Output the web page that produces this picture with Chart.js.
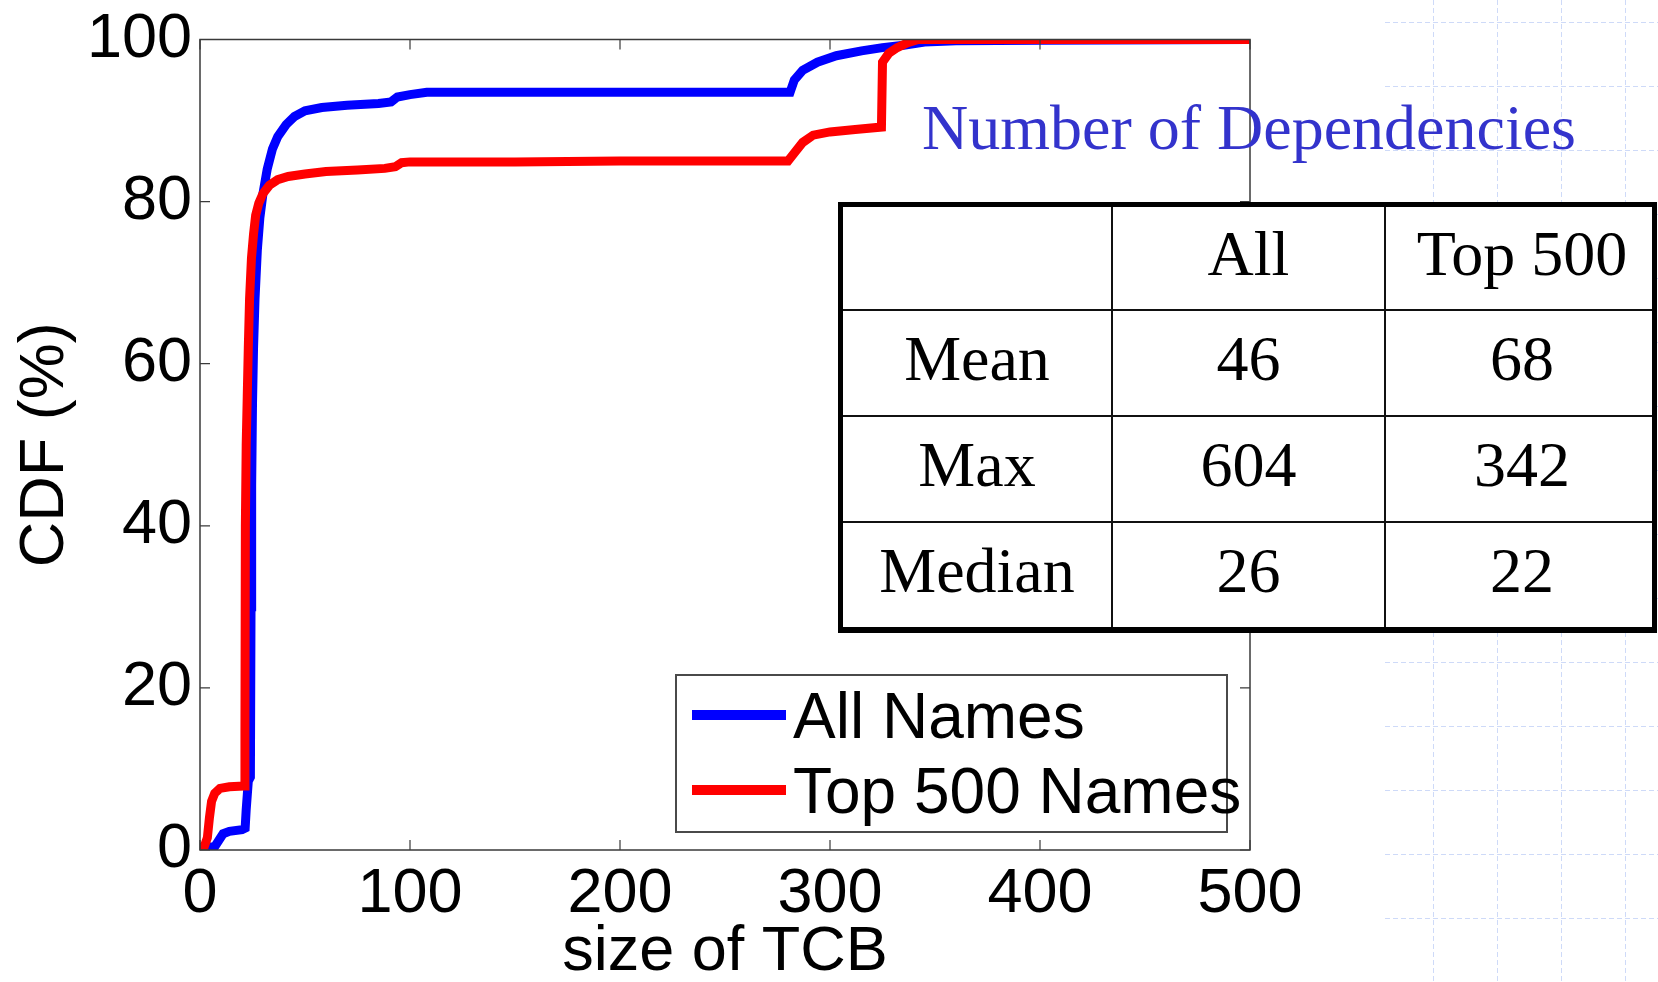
<!DOCTYPE html>
<html>
<head>
<meta charset="utf-8">
<title>CDF of TCB size</title>
<script src="https://cdn.jsdelivr.net/npm/chart.js@4.4.1/dist/chart.umd.min.js"></script>
<style>
    html, body { margin: 0; padding: 0; background: #fff; }
    #page { position: relative; width: 1658px; height: 982px; overflow: hidden; }
    #chart { position: absolute; left: 0; top: 0; }
    #deps-title {
        position: absolute; left: 922px; top: 96px;
        font: 64px/1 'Liberation Serif', 'Times New Roman', serif;
        color: #3333cc; white-space: nowrap;
    }
    #stats {
        position: absolute; left: 838px; top: 202px; width: 819px; height: 431px;
        box-sizing: border-box; border: 5px solid #000; border-bottom-width: 6px;
        background: #fff; display: grid;
        grid-template-columns: 270px 273px 1fr;
        grid-template-rows: 104px 106px 106px 1fr;
        font: 64px/1 'Liberation Serif', 'Times New Roman', serif; color: #000;
    }
    #stats div {
        display: flex; align-items: center; justify-content: center;
        padding-bottom: 8px; box-sizing: border-box;
        border-right: 2px solid #111; border-bottom: 2px solid #111;
    }
    #stats div.last-col { border-right: none; padding-left: 6px; }
    #stats div.last-row { border-bottom: none; }
    #legend {
        position: absolute; left: 675px; top: 674px; width: 553px; height: 159px;
        box-sizing: border-box; border: 2px solid #4a4a4a; background: #fff;
    }
    #legend .swatch { position: absolute; left: 15px; width: 94px; height: 10px; }
    #legend .label {
        position: absolute; left: 116px; white-space: nowrap;
        font: 64px/1 'Liberation Sans', Arial, sans-serif; color: #000;
    }
</style>
</head>
<body>
<div id="page">
    <canvas id="chart" width="1658" height="982"></canvas>
    <div id="deps-title">Number of Dependencies</div>
    <div id="stats"></div>
    <div id="legend"></div>
</div>
<script>
'use strict';

// axis ticks
const xTicks = [0, 100, 200, 300, 400, 500];
const yTicks = [0, 20, 40, 60, 80, 100];

// CDF of "All Names" (size of TCB, cumulative %)
const allNamesSize = [0, 7, 9, 11, 14, 20, 21.5, 22, 23, 24, 24.3, 24.6, 25, 25.5, 26.2, 27.3, 28.5, 30, 32, 34.5,
    37, 41, 45, 50, 58, 70, 85, 91, 94, 100, 108, 150, 200, 250, 281, 283, 287, 294, 303, 315,
    325, 335, 345, 360, 400, 500];
const allNamesCdf = [0.3, 0.4, 1.2, 2.0, 2.3, 2.5, 2.7, 5, 8.5, 9, 30, 45, 55, 62, 68, 74, 78, 81, 84, 86.5,
    88, 89.5, 90.5, 91.2, 91.6, 91.9, 92.1, 92.3, 92.9, 93.2, 93.5, 93.5, 93.5, 93.5, 93.5, 95, 96.2, 97.2, 98, 98.6,
    99.0, 99.3, 99.7, 99.85, 99.9, 100];

// CDF of "Top 500 Names"
const top500Size = [0, 2, 3.5, 4.5, 5.5, 7, 9.5, 14, 21, 21.4, 21.6, 22, 22.5, 23, 23.6, 24.5, 25.5, 26.5, 28, 30,
    33, 37, 42, 50, 60, 75, 88, 93, 96, 100, 150, 200, 250, 280, 283, 287, 292, 300, 312, 324.5,
    325, 328, 332, 337, 342, 500];
const top500Cdf = [0.3, 0.4, 1.5, 4, 6, 7, 7.6, 7.8, 7.9, 15, 40, 50, 56, 62, 68, 73, 76, 78.3, 79.8, 81,
    82, 82.7, 83.1, 83.4, 83.7, 83.9, 84.1, 84.3, 84.8, 84.9, 84.9, 85.0, 85.0, 85.0, 86, 87.3, 88.2, 88.6, 88.9, 89.2,
    97.2, 98.3, 99, 99.6, 100, 100];

// inset table
const statHeader = ['', 'All', 'Top 500'];
const statNames = ['Mean', 'Max', 'Median'];
const statAll = [46, 604, 26];
const statTop500 = [68, 342, 22];

const seriesLabels = ['All Names', 'Top 500 Names'];
const seriesColors = ['#0000ff', '#ff0000'];

const SANS = "'Liberation Sans', Arial, sans-serif";

function toPoints(xs, ys) {
    return xs.map((x, i) => ({ x: x, y: ys[i] }));
}

//-----------------------
//- page decoration     -
//-----------------------
const paperGrid = {
    id: 'paperGrid',
    beforeDraw(chart) {
        const ctx = chart.ctx;
        ctx.save();
        ctx.fillStyle = '#fff';
        ctx.fillRect(0, 0, chart.width, chart.height);
        ctx.strokeStyle = 'rgb(206,218,248)';
        ctx.lineWidth = 1;
        ctx.setLineDash([5, 3]);
        ctx.beginPath();
        for (let x = 1433.5; x < chart.width; x += 64) {
            ctx.moveTo(x, 0);
            ctx.lineTo(x, chart.height);
        }
        for (let y = 22.5; y <= chart.height; y += 64) {
            ctx.moveTo(1385, y);
            ctx.lineTo(chart.width, y);
        }
        ctx.stroke();
        ctx.restore();
    }
};

// matlab style box with inward ticks
const axisBox = {
    id: 'axisBox',
    afterDatasetsDraw(chart) {
        const ctx = chart.ctx;
        const a = chart.chartArea;
        const xs = chart.scales.x;
        const ys = chart.scales.y;
        const len = 10;
        ctx.save();
        ctx.strokeStyle = '#3a3a3a';
        ctx.lineWidth = 1.5;
        ctx.strokeRect(a.left, a.top, a.right - a.left, a.bottom - a.top);
        ctx.lineWidth = 1.2;
        ctx.beginPath();
        xTicks.forEach((v) => {
            const px = xs.getPixelForValue(v);
            ctx.moveTo(px, a.bottom);
            ctx.lineTo(px, a.bottom - len);
            ctx.moveTo(px, a.top);
            ctx.lineTo(px, a.top + len);
        });
        yTicks.forEach((v) => {
            const py = ys.getPixelForValue(v);
            ctx.moveTo(a.left, py);
            ctx.lineTo(a.left + len, py);
            ctx.moveTo(a.right, py);
            ctx.lineTo(a.right - len, py);
        });
        ctx.stroke();
        ctx.restore();
    }
};

const chart = new Chart(document.getElementById('chart'), {
    type: 'line',
    data: {
        datasets: [
            {
                label: seriesLabels[0],
                data: toPoints(allNamesSize, allNamesCdf),
                borderColor: seriesColors[0],
                borderWidth: 9,
                pointRadius: 0,
                tension: 0,
                order: 1
            },
            {
                label: seriesLabels[1],
                data: toPoints(top500Size, top500Cdf),
                borderColor: seriesColors[1],
                borderWidth: 9,
                pointRadius: 0,
                tension: 0,
                order: 0
            }
        ]
    },
    options: {
        responsive: false,
        animation: false,
        devicePixelRatio: 1,
        layout: { padding: { left: 0, top: 34, right: 408, bottom: 0 } },
        plugins: {
            legend: { display: false },
            tooltip: { enabled: false }
        },
        scales: {
            x: {
                type: 'linear',
                min: 0,
                max: 500,
                grid: { display: false, drawTicks: false },
                border: { display: false },
                ticks: {
                    stepSize: 100,
                    padding: 13,
                    color: '#000',
                    maxRotation: 0,
                    font: { family: SANS, size: 63, lineHeight: 1 }
                },
                title: {
                    display: true,
                    text: 'size of TCB',
                    color: '#000',
                    padding: { top: 0, bottom: -2 },
                    font: { family: SANS, size: 63, lineHeight: 1 }
                },
                afterFit: (scale) => { scale.height = 132; }
            },
            y: {
                min: 0,
                max: 100,
                grid: { display: false, drawTicks: false },
                border: { display: false },
                ticks: {
                    stepSize: 20,
                    padding: 8,
                    color: '#000',
                    font: { family: SANS, size: 63, lineHeight: 1 }
                },
                title: {
                    display: true,
                    text: 'CDF (%)',
                    color: '#000',
                    padding: { top: 14.5, bottom: 0 },
                    font: { family: SANS, size: 63, lineHeight: 1 }
                },
                afterFit: (scale) => { scale.width = 200; }
            }
        }
    },
    plugins: [paperGrid, axisBox]
});

//-----------------------
//- inset table         -
//-----------------------
const stats = document.getElementById('stats');
const rows = [statHeader];
for (let i = 0; i < statNames.length; i++) {
    rows.push([statNames[i], String(statAll[i]), String(statTop500[i])]);
}
rows.forEach((row, r) => {
    row.forEach((txt, c) => {
        const cell = document.createElement('div');
        cell.textContent = txt;
        if (c === row.length - 1) cell.classList.add('last-col');
        if (r === rows.length - 1) cell.classList.add('last-row');
        stats.appendChild(cell);
    });
});

//-----------------------
//- legend              -
//-----------------------
const legend = document.getElementById('legend');
chart.data.datasets.forEach((ds, i) => {
    const sw = document.createElement('div');
    sw.className = 'swatch';
    sw.style.top = (34 + i * 75) + 'px';
    sw.style.background = ds.borderColor;
    const lb = document.createElement('div');
    lb.className = 'label';
    lb.style.top = (8 + i * 75) + 'px';
    lb.textContent = ds.label;
    legend.appendChild(sw);
    legend.appendChild(lb);
});
</script>
</body>
</html>
